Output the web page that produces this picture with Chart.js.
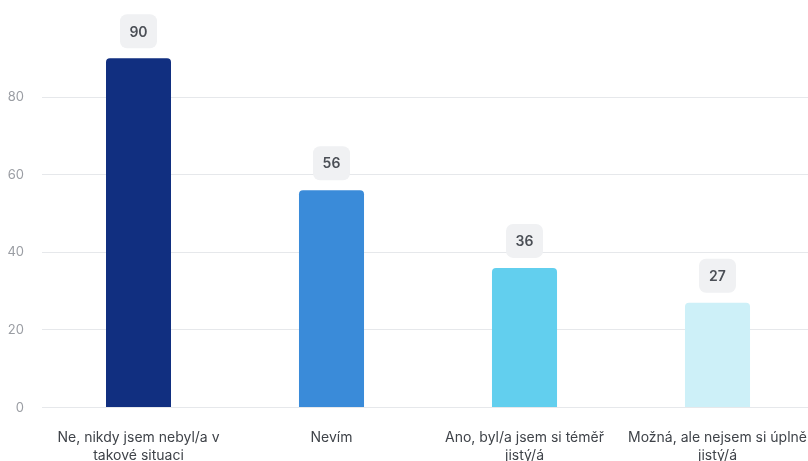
<!DOCTYPE html>
<html>
<head>
<meta charset="utf-8">
<script src="https://cdn.jsdelivr.net/npm/chart.js@4/dist/chart.umd.min.js"></script>
<style>
  html, body { margin: 0; padding: 0; background: #fff; overflow: hidden; }
  #wrap { width: 820px; height: 478px; }
</style>
</head>
<body>
<div id="wrap"><canvas id="chart"></canvas></div>
<script>
// Data
const categories = [
  ['Ne, nikdy jsem nebyl/a v', 'takové situaci'],
  'Nevím',
  ['Ano, byl/a jsem si téměř', 'jistý/á'],
  ['Možná, ale nejsem si úplně', 'jistý/á']
];
const values = [90, 56, 36, 27];
const barColors = ['#112f80', '#3a8bd9', '#62cfee', '#cdf0f8'];
const yTicks = [0, 20, 40, 60, 80];

// Badge with the value above each bar
const valueBadges = {
  id: 'valueBadges',
  afterDatasetsDraw(chart) {
    const ctx = chart.ctx;
    const meta = chart.getDatasetMeta(0);
    ctx.save();
    ctx.font = '600 14px Inter, "Noto Sans", sans-serif';
    ctx.textAlign = 'center';
    ctx.textBaseline = 'middle';
    meta.data.forEach((bar, i) => {
      const w = 37, h = 34;
      const x = bar.x - w / 2;
      const y = bar.y - 10 - h;
      ctx.fillStyle = '#f0f1f3';
      ctx.beginPath();
      ctx.roundRect(x, y, w, h, 7);
      ctx.fill();
      ctx.fillStyle = '#4b4f56';
      ctx.fillText(String(values[i]), bar.x, y + h / 2 + 1);
    });
    ctx.restore();
  }
};

new Chart(document.getElementById('chart'), {
  type: 'bar',
  data: {
    labels: categories,
    datasets: [{
      data: values,
      backgroundColor: barColors,
      borderRadius: { topLeft: 4, topRight: 4 },
      borderSkipped: 'bottom',
      barPercentage: 0.337,
      categoryPercentage: 1
    }]
  },
  options: {
    responsive: true,
    maintainAspectRatio: false,
    animation: false,
    layout: { padding: { top: 19.5, left: 6, right: 0, bottom: 0 } },
    plugins: {
      legend: { display: false },
      tooltip: { enabled: false }
    },
    scales: {
      x: {
        grid: { display: false },
        border: { display: false },
        ticks: {
          color: '#3f4349',
          font: { family: 'Inter, "Noto Sans", sans-serif', size: 14, lineHeight: 1.3 },
          padding: 13,
          maxRotation: 0,
          autoSkip: false
        }
      },
      y: {
        min: 0,
        max: 100,
        afterBuildTicks(axis) {
          axis.ticks = yTicks.map(v => ({ value: v }));
        },
        afterFit(axis) {
          axis.width = 36;
          // tick padding otherwise pushes the chart area down
          axis.paddingTop = 0;
          axis.paddingBottom = 0;
        },
        grid: { color: '#e6e8eb', drawTicks: false },
        border: { display: false },
        ticks: {
          color: '#9a9da3',
          font: { family: 'Inter, "Noto Sans", sans-serif', size: 13 },
          padding: 18
        }
      }
    }
  },
  plugins: [valueBadges]
});
</script>
</body>
</html>
